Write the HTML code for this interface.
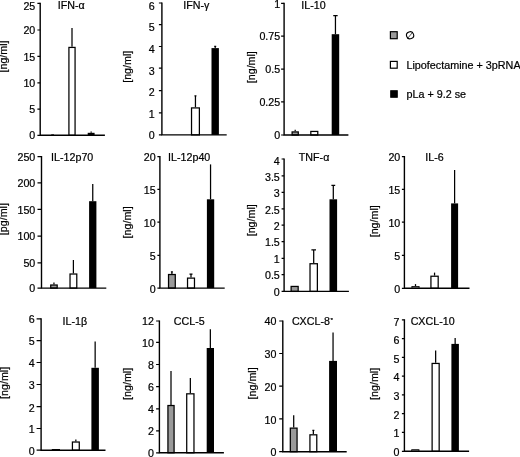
<!DOCTYPE html>
<html><head><meta charset="utf-8"><title>Cytokine figure</title>
<style>html,body{margin:0;padding:0;background:#fff}svg{display:block;filter:blur(0.3px)}text{font-family:"Liberation Sans",Arial,Helvetica,sans-serif;fill:#000;stroke:#000;stroke-width:0.2px}</style>
</head><body>
<svg width="520" height="457" viewBox="0 0 520 457">
<rect width="520" height="457" fill="#fff"/>
<g>
<rect x="51.6" y="134.8" width="2" height="0.5" fill="#9a9a9a" stroke="#000" stroke-width="0.8"/>
<path d="M72 46.8V27.9" fill="none" stroke="#000" stroke-width="1.25"/>
<rect x="68.92" y="47.42" width="6.15" height="87.88" fill="#fff" stroke="#000" stroke-width="1.25"/>
<path d="M91.15 132.8V131.6" fill="none" stroke="#000" stroke-width="1.25"/>
<rect x="87.7" y="132.8" width="6.9" height="2.5" fill="#000"/>
<path d="M40.2 2.7V135.3H104.9" fill="none" stroke="#000" stroke-width="1.4"/>
<path d="M37.4 3.3H40.2M37.4 30H40.2M37.4 56.3H40.2M37.4 82.9H40.2M37.4 109.2H40.2M37.4 135.3H40.2" fill="none" stroke="#000" stroke-width="1.2"/>
<text transform="translate(35.3 9.78) scale(1.07 1)" font-size="10" text-anchor="end">25</text>
<text transform="translate(35.3 34.48) scale(1.07 1)" font-size="10" text-anchor="end">20</text>
<text transform="translate(35.3 61.08) scale(1.07 1)" font-size="10" text-anchor="end">15</text>
<text transform="translate(35.3 86.98) scale(1.07 1)" font-size="10" text-anchor="end">10</text>
<text transform="translate(35.3 113.18) scale(1.07 1)" font-size="10" text-anchor="end">5</text>
<text transform="translate(35.3 139.48) scale(1.07 1)" font-size="10" text-anchor="end">0</text>
<text transform="translate(71.3 9.38) scale(1.07 1)" font-size="10" text-anchor="middle">IFN-α</text>
<text transform="translate(7.3 56.5) rotate(-90) scale(1.07 1)" font-size="10" text-anchor="middle">[ng/ml]</text>
</g>
<g>
<path d="M195.45 107.3V95.5M194.45 95.8H196.45" fill="none" stroke="#000" stroke-width="1.25"/>
<rect x="191.53" y="107.92" width="7.85" height="26.98" fill="#fff" stroke="#000" stroke-width="1.25"/>
<path d="M215.2 48.1V46M214.2 46.3H216.2" fill="none" stroke="#000" stroke-width="1.25"/>
<rect x="211.5" y="48.1" width="7.4" height="86.8" fill="#000"/>
<path d="M161.9 2.4V134.9H226.7" fill="none" stroke="#000" stroke-width="1.4"/>
<path d="M158.9 3H161.9M158.9 24.6H161.9M158.9 46.5H161.9M158.9 68.1H161.9M158.9 90.6H161.9M158.9 112.8H161.9M158.9 134.9H161.9" fill="none" stroke="#000" stroke-width="1.2"/>
<text transform="translate(154.8 9.78) scale(1.07 1)" font-size="10" text-anchor="end">6</text>
<text transform="translate(154.8 31.33) scale(1.07 1)" font-size="10" text-anchor="end">5</text>
<text transform="translate(154.8 52.68) scale(1.07 1)" font-size="10" text-anchor="end">4</text>
<text transform="translate(154.8 74.68) scale(1.07 1)" font-size="10" text-anchor="end">3</text>
<text transform="translate(154.8 95.98) scale(1.07 1)" font-size="10" text-anchor="end">2</text>
<text transform="translate(154.8 117.78) scale(1.07 1)" font-size="10" text-anchor="end">1</text>
<text transform="translate(154.8 139.38) scale(1.07 1)" font-size="10" text-anchor="end">0</text>
<text transform="translate(196.3 8.88) scale(1.07 1)" font-size="10" text-anchor="middle">IFN-γ</text>
<text transform="translate(131 66.8) rotate(-90) scale(1.07 1)" font-size="10" text-anchor="middle">[ng/ml]</text>
</g>
<g>
<path d="M295.2 131.3V129.7" fill="none" stroke="#000" stroke-width="1.25"/>
<rect x="292.12" y="131.93" width="6.15" height="3.07" fill="#9a9a9a" stroke="#000" stroke-width="1.25"/>
<rect x="310.82" y="131.43" width="6.95" height="3.57" fill="#fff" stroke="#000" stroke-width="1.25"/>
<path d="M335.45 34.2V15.4M333.25 15.7H337.65" fill="none" stroke="#000" stroke-width="1.25"/>
<rect x="331.7" y="34.2" width="7.5" height="100.8" fill="#000"/>
<path d="M284.1 2.7V135H348.4" fill="none" stroke="#000" stroke-width="1.4"/>
<path d="M281.1 3.3H284.1M281.1 36.2H284.1M281.1 69.1H284.1M281.1 101.8H284.1M281.1 135H284.1" fill="none" stroke="#000" stroke-width="1.2"/>
<text transform="translate(280.2 7.68) scale(1.07 1)" font-size="10" text-anchor="end">1</text>
<text transform="translate(280.2 40.38) scale(1.07 1)" font-size="10" text-anchor="end">0.75</text>
<text transform="translate(280.2 73.48) scale(1.07 1)" font-size="10" text-anchor="end">0.5</text>
<text transform="translate(280.2 106.48) scale(1.07 1)" font-size="10" text-anchor="end">0.25</text>
<text transform="translate(280.2 139.38) scale(1.07 1)" font-size="10" text-anchor="end">0</text>
<text transform="translate(313.5 9.08) scale(1.07 1)" font-size="10" text-anchor="middle">IL-10</text>
<text transform="translate(255.4 67.2) rotate(-90) scale(1.07 1)" font-size="10" text-anchor="middle">[ng/ml]</text>
</g>
<g>
<path d="M53.95 284.4V282.5" fill="none" stroke="#000" stroke-width="1.25"/>
<rect x="50.73" y="285.02" width="6.45" height="3.08" fill="#9a9a9a" stroke="#000" stroke-width="1.25"/>
<path d="M73.4 273.4V260" fill="none" stroke="#000" stroke-width="1.25"/>
<rect x="70.03" y="274.02" width="6.75" height="14.08" fill="#fff" stroke="#000" stroke-width="1.25"/>
<path d="M92.75 201.2V184" fill="none" stroke="#000" stroke-width="1.25"/>
<rect x="89.1" y="201.2" width="7.3" height="86.9" fill="#000"/>
<path d="M41.5 156V288.1H106.3" fill="none" stroke="#000" stroke-width="1.4"/>
<path d="M37.5 156.6H41.5M37.5 182.8H41.5M37.5 209.4H41.5M37.5 236.2H41.5M37.5 262.8H41.5M37.5 288.1H41.5" fill="none" stroke="#000" stroke-width="1.2"/>
<text transform="translate(35.3 160.98) scale(1.07 1)" font-size="10" text-anchor="end">250</text>
<text transform="translate(35.3 187.28) scale(1.07 1)" font-size="10" text-anchor="end">200</text>
<text transform="translate(35.3 213.88) scale(1.07 1)" font-size="10" text-anchor="end">150</text>
<text transform="translate(35.3 240.38) scale(1.07 1)" font-size="10" text-anchor="end">100</text>
<text transform="translate(35.3 266.68) scale(1.07 1)" font-size="10" text-anchor="end">50</text>
<text transform="translate(35.3 292.28) scale(1.07 1)" font-size="10" text-anchor="end">0</text>
<text transform="translate(72.2 161.18) scale(1.07 1)" font-size="10" text-anchor="middle">IL-12p70</text>
<text transform="translate(7.3 219.1) rotate(-90) scale(1.07 1)" font-size="10" text-anchor="middle">[pg/ml]</text>
</g>
<g>
<path d="M171.9 273.9V271.5M170.9 271.8H172.9" fill="none" stroke="#000" stroke-width="1.25"/>
<rect x="168.53" y="274.52" width="6.75" height="13.58" fill="#9a9a9a" stroke="#000" stroke-width="1.25"/>
<path d="M191 277.5V273.9M189.5 274.2H192.5" fill="none" stroke="#000" stroke-width="1.25"/>
<rect x="187.53" y="278.12" width="6.95" height="9.98" fill="#fff" stroke="#000" stroke-width="1.25"/>
<path d="M210.55 199.3V164.4" fill="none" stroke="#000" stroke-width="1.25"/>
<rect x="206.9" y="199.3" width="7.3" height="88.8" fill="#000"/>
<path d="M159.9 156V288.1H224.7" fill="none" stroke="#000" stroke-width="1.4"/>
<path d="M157.4 156.6H159.9M157.4 189.4H159.9M157.4 222.2H159.9M157.4 255.4H159.9M157.4 288.1H159.9" fill="none" stroke="#000" stroke-width="1.2"/>
<text transform="translate(155.6 160.98) scale(1.07 1)" font-size="10" text-anchor="end">20</text>
<text transform="translate(155.6 193.78) scale(1.07 1)" font-size="10" text-anchor="end">15</text>
<text transform="translate(155.6 226.58) scale(1.07 1)" font-size="10" text-anchor="end">10</text>
<text transform="translate(155.6 259.78) scale(1.07 1)" font-size="10" text-anchor="end">5</text>
<text transform="translate(155.6 292.58) scale(1.07 1)" font-size="10" text-anchor="end">0</text>
<text transform="translate(189.2 161.18) scale(1.07 1)" font-size="10" text-anchor="middle">IL-12p40</text>
<text transform="translate(131.2 222.4) rotate(-90) scale(1.07 1)" font-size="10" text-anchor="middle">[ng/ml]</text>
</g>
<g>
<rect x="291.12" y="286.43" width="7.05" height="4.97" fill="#9a9a9a" stroke="#000" stroke-width="1.25"/>
<path d="M313.7 263.1V249.6M311.4 249.9H316" fill="none" stroke="#000" stroke-width="1.25"/>
<rect x="310.02" y="263.73" width="7.35" height="27.67" fill="#fff" stroke="#000" stroke-width="1.25"/>
<path d="M333.3 199.3V185M331.4 185.3H335.2" fill="none" stroke="#000" stroke-width="1.25"/>
<rect x="329.5" y="199.3" width="7.6" height="92.1" fill="#000"/>
<path d="M284.1 158.4V291.4H348.9" fill="none" stroke="#000" stroke-width="1.4"/>
<path d="M281.6 159H284.1M281.6 175.9H284.1M281.6 192.4H284.1M281.6 208.8H284.1M281.6 225.2H284.1M281.6 241.7H284.1M281.6 258.3H284.1M281.6 274.6H284.1M281.6 291.4H284.1" fill="none" stroke="#000" stroke-width="1.2"/>
<text transform="translate(279.8 164.78) scale(1.07 1)" font-size="10" text-anchor="end">4</text>
<text transform="translate(279.8 180.68) scale(1.07 1)" font-size="10" text-anchor="end">3.5</text>
<text transform="translate(279.8 197.08) scale(1.07 1)" font-size="10" text-anchor="end">3</text>
<text transform="translate(279.8 213.98) scale(1.07 1)" font-size="10" text-anchor="end">2.5</text>
<text transform="translate(279.8 230.08) scale(1.07 1)" font-size="10" text-anchor="end">2</text>
<text transform="translate(279.8 246.28) scale(1.07 1)" font-size="10" text-anchor="end">1.5</text>
<text transform="translate(279.8 262.78) scale(1.07 1)" font-size="10" text-anchor="end">1</text>
<text transform="translate(279.8 279.18) scale(1.07 1)" font-size="10" text-anchor="end">0.5</text>
<text transform="translate(279.8 295.58) scale(1.07 1)" font-size="10" text-anchor="end">0</text>
<text transform="translate(314.1 160.88) scale(1.07 1)" font-size="10" text-anchor="middle">TNF-α</text>
<text transform="translate(255.4 220.3) rotate(-90) scale(1.07 1)" font-size="10" text-anchor="middle">[ng/ml]</text>
</g>
<g>
<path d="M415.5 286.1V284.1" fill="none" stroke="#000" stroke-width="1.25"/>
<rect x="411.9" y="286.5" width="7.2" height="1.8" fill="#9a9a9a" stroke="#000" stroke-width="0.8"/>
<path d="M434.55 275.6V272.6" fill="none" stroke="#000" stroke-width="1.25"/>
<rect x="430.93" y="276.23" width="7.25" height="12.07" fill="#fff" stroke="#000" stroke-width="1.25"/>
<path d="M454.6 203.4V170" fill="none" stroke="#000" stroke-width="1.25"/>
<rect x="451.1" y="203.4" width="7" height="84.9" fill="#000"/>
<path d="M404.4 156V288.3H469.5" fill="none" stroke="#000" stroke-width="1.4"/>
<path d="M401.9 156.6H404.4M401.9 189.4H404.4M401.9 222.2H404.4M401.9 255.4H404.4M401.9 288.3H404.4" fill="none" stroke="#000" stroke-width="1.2"/>
<text transform="translate(400.3 161.28) scale(1.07 1)" font-size="10" text-anchor="end">20</text>
<text transform="translate(400.3 194.18) scale(1.07 1)" font-size="10" text-anchor="end">15</text>
<text transform="translate(400.3 226.88) scale(1.07 1)" font-size="10" text-anchor="end">10</text>
<text transform="translate(400.3 260.08) scale(1.07 1)" font-size="10" text-anchor="end">5</text>
<text transform="translate(400.3 293.08) scale(1.07 1)" font-size="10" text-anchor="end">0</text>
<text transform="translate(434.5 161.18) scale(1.07 1)" font-size="10" text-anchor="middle">IL-6</text>
<text transform="translate(377.6 221.3) rotate(-90) scale(1.07 1)" font-size="10" text-anchor="middle">[ng/ml]</text>
</g>
<g>
<rect x="52.2" y="449.4" width="7.4" height="0.8" fill="#9a9a9a" stroke="#000" stroke-width="0.8"/>
<path d="M75.85 441.4V439.5" fill="none" stroke="#000" stroke-width="1.25"/>
<rect x="72.42" y="442.02" width="6.85" height="8.18" fill="#fff" stroke="#000" stroke-width="1.25"/>
<path d="M95.15 367.8V341.5" fill="none" stroke="#000" stroke-width="1.25"/>
<rect x="91.4" y="367.8" width="7.5" height="82.4" fill="#000"/>
<path d="M41.1 318.2V450.2H105.5" fill="none" stroke="#000" stroke-width="1.4"/>
<path d="M36.6 318.8H41.1M36.6 340.7H41.1M36.6 362.5H41.1M36.6 384.5H41.1M36.6 406.6H41.1M36.6 428.5H41.1M36.6 450.2H41.1" fill="none" stroke="#000" stroke-width="1.2"/>
<text transform="translate(34.8 322.88) scale(1.07 1)" font-size="10" text-anchor="end">6</text>
<text transform="translate(34.8 344.78) scale(1.07 1)" font-size="10" text-anchor="end">5</text>
<text transform="translate(34.8 366.78) scale(1.07 1)" font-size="10" text-anchor="end">4</text>
<text transform="translate(34.8 389.08) scale(1.07 1)" font-size="10" text-anchor="end">3</text>
<text transform="translate(34.8 411.58) scale(1.07 1)" font-size="10" text-anchor="end">2</text>
<text transform="translate(34.8 433.18) scale(1.07 1)" font-size="10" text-anchor="end">1</text>
<text transform="translate(34.8 455.08) scale(1.07 1)" font-size="10" text-anchor="end">0</text>
<text transform="translate(74.9 324.58) scale(1.07 1)" font-size="10" text-anchor="middle">IL-1β</text>
<text transform="translate(7.6 382.9) rotate(-90) scale(1.07 1)" font-size="10" text-anchor="middle">[ng/ml]</text>
</g>
<g>
<path d="M171 404.9V371" fill="none" stroke="#000" stroke-width="1.25"/>
<rect x="167.93" y="405.52" width="6.15" height="47.28" fill="#9a9a9a" stroke="#000" stroke-width="1.25"/>
<path d="M190.35 393.2V377.9" fill="none" stroke="#000" stroke-width="1.25"/>
<rect x="186.72" y="393.82" width="7.25" height="58.98" fill="#fff" stroke="#000" stroke-width="1.25"/>
<path d="M210.35 348V329.2" fill="none" stroke="#000" stroke-width="1.25"/>
<rect x="206.7" y="348" width="7.3" height="104.8" fill="#000"/>
<path d="M159.4 320.4V452.8H223.9" fill="none" stroke="#000" stroke-width="1.4"/>
<path d="M156.1 321H159.4M156.1 342.3H159.4M156.1 364.5H159.4M156.1 386.6H159.4M156.1 408.8H159.4M156.1 430.9H159.4M156.1 452.8H159.4" fill="none" stroke="#000" stroke-width="1.2"/>
<text transform="translate(154 325.38) scale(1.07 1)" font-size="10" text-anchor="end">12</text>
<text transform="translate(154 347.08) scale(1.07 1)" font-size="10" text-anchor="end">10</text>
<text transform="translate(154 368.88) scale(1.07 1)" font-size="10" text-anchor="end">8</text>
<text transform="translate(154 391.28) scale(1.07 1)" font-size="10" text-anchor="end">6</text>
<text transform="translate(154 413.18) scale(1.07 1)" font-size="10" text-anchor="end">4</text>
<text transform="translate(154 435.38) scale(1.07 1)" font-size="10" text-anchor="end">2</text>
<text transform="translate(154 456.98) scale(1.07 1)" font-size="10" text-anchor="end">0</text>
<text transform="translate(189.3 325.28) scale(1.07 1)" font-size="10" text-anchor="middle">CCL-5</text>
<text transform="translate(130.8 383.9) rotate(-90) scale(1.07 1)" font-size="10" text-anchor="middle">[ng/ml]</text>
</g>
<g>
<path d="M293.7 427.5V415.3" fill="none" stroke="#000" stroke-width="1.25"/>
<rect x="290.32" y="428.12" width="6.75" height="23.57" fill="#9a9a9a" stroke="#000" stroke-width="1.25"/>
<path d="M313.35 434.2V430.1M312.35 430.4H314.35" fill="none" stroke="#000" stroke-width="1.25"/>
<rect x="309.93" y="434.82" width="6.85" height="16.88" fill="#fff" stroke="#000" stroke-width="1.25"/>
<path d="M333.05 360.9V332.5" fill="none" stroke="#000" stroke-width="1.25"/>
<rect x="329.1" y="360.9" width="7.9" height="90.8" fill="#000"/>
<path d="M282.8 320.4V451.7H346.7" fill="none" stroke="#000" stroke-width="1.4"/>
<path d="M279.2 321H282.8M279.2 353.5H282.8M279.2 386.1H282.8M279.2 418.9H282.8M279.2 451.7H282.8" fill="none" stroke="#000" stroke-width="1.2"/>
<text transform="translate(276.5 325.38) scale(1.07 1)" font-size="10" text-anchor="end">40</text>
<text transform="translate(276.5 357.88) scale(1.07 1)" font-size="10" text-anchor="end">30</text>
<text transform="translate(276.5 390.98) scale(1.07 1)" font-size="10" text-anchor="end">20</text>
<text transform="translate(276.5 423.68) scale(1.07 1)" font-size="10" text-anchor="end">10</text>
<text transform="translate(276.5 456.48) scale(1.07 1)" font-size="10" text-anchor="end">0</text>
<text transform="translate(312.4 325.08) scale(1.07 1)" font-size="10" text-anchor="middle">CXCL-8<tspan font-size="6" dx="0.5" dy="-3.2">*</tspan></text>
<text transform="translate(255.6 383.4) rotate(-90) scale(1.07 1)" font-size="10" text-anchor="middle">[ng/ml]</text>
</g>
<g>
<rect x="411.7" y="449.7" width="7.3" height="1.6" fill="#9a9a9a" stroke="#000" stroke-width="0.8"/>
<path d="M435.65 362.8V350.5" fill="none" stroke="#000" stroke-width="1.25"/>
<rect x="432.12" y="363.43" width="7.05" height="87.88" fill="#fff" stroke="#000" stroke-width="1.25"/>
<path d="M455.15 343.9V337.9" fill="none" stroke="#000" stroke-width="1.25"/>
<rect x="451.4" y="343.9" width="7.5" height="107.4" fill="#000"/>
<path d="M404.4 319.2V451.3H469.1" fill="none" stroke="#000" stroke-width="1.4"/>
<path d="M401.9 319.8H404.4M401.9 338.6H404.4M401.9 357.3H404.4M401.9 376.1H404.4M401.9 394.9H404.4M401.9 413.7H404.4M401.9 432.4H404.4M401.9 451.3H404.4" fill="none" stroke="#000" stroke-width="1.2"/>
<text transform="translate(399.5 325.68) scale(1.07 1)" font-size="10" text-anchor="end">7</text>
<text transform="translate(399.5 343.88) scale(1.07 1)" font-size="10" text-anchor="end">6</text>
<text transform="translate(399.5 362.78) scale(1.07 1)" font-size="10" text-anchor="end">5</text>
<text transform="translate(399.5 381.18) scale(1.07 1)" font-size="10" text-anchor="end">4</text>
<text transform="translate(399.5 399.98) scale(1.07 1)" font-size="10" text-anchor="end">3</text>
<text transform="translate(399.5 418.88) scale(1.07 1)" font-size="10" text-anchor="end">2</text>
<text transform="translate(399.5 437.28) scale(1.07 1)" font-size="10" text-anchor="end">1</text>
<text transform="translate(399.5 455.68) scale(1.07 1)" font-size="10" text-anchor="end">0</text>
<text transform="translate(432.6 325.18) scale(1.07 1)" font-size="10" text-anchor="middle">CXCL-10</text>
<text transform="translate(377.8 383.9) rotate(-90) scale(1.07 1)" font-size="10" text-anchor="middle">[ng/ml]</text>
</g>
<g>
<rect x="390.4" y="31.7" width="6.8" height="7.0" fill="#9a9a9a" stroke="#000" stroke-width="1.2"/>
<rect x="390.4" y="61.4" width="6.8" height="6.8" fill="#fff" stroke="#000" stroke-width="1.2"/>
<rect x="390.8" y="90.8" width="6.4" height="6.4" fill="#000" stroke="#000" stroke-width="1.2"/>
<ellipse cx="410.1" cy="35.3" rx="3.6" ry="3.5" fill="none" stroke="#000" stroke-width="1.1" transform="rotate(-20 410.1 35.3)"/><path d="M407.4 38.6L412.9 32" stroke="#000" stroke-width="0.7" fill="none"/>
<text transform="translate(406.4 68.7) scale(1.08 1)" font-size="10">Lipofectamine + 3pRNA</text>
<text transform="translate(406.4 98) scale(1.08 1)" font-size="10">pLa + 9.2 se</text>
</g>
</svg></body></html>
